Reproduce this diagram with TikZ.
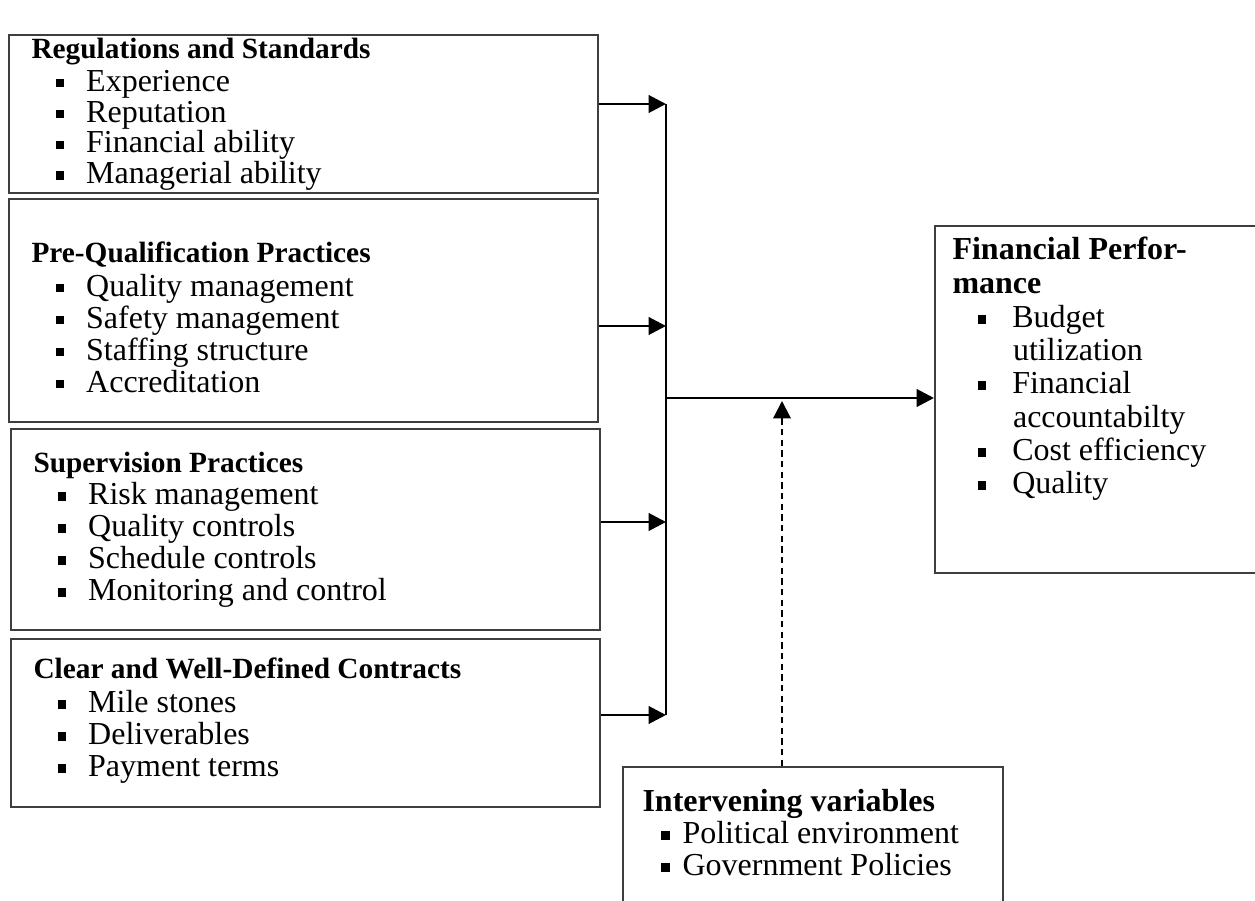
\documentclass[tikz,border=0pt]{standalone}
\usepackage{fontspec}
\setmainfont{Liberation Serif}
\usetikzlibrary{arrows.meta,positioning,calc}
\definecolor{boxgray}{RGB}{62,62,62}
\tikzstyle{panel} = [draw=boxgray, line width=0.8pt, anchor=north west, inner sep=0pt]
\tikzstyle{paneltext} = [anchor=north west, inner sep=0pt, align=left, font=\fontsize{12}{12}\selectfont]
\tikzstyle{flow} = [line width=1.1pt, -{Triangle[length=6.5pt,width=6.5pt]}]
\tikzstyle{dashflow} = [line width=0.8pt, dash pattern=on 2.4pt off 1.6pt, -{Triangle[length=6.5pt,width=6.5pt]}]
\newcommand{\lhead}[1]{{\rule{0pt}{8pt}\fontsize{11}{12}\selectfont\bfseries #1}}
\newcommand{\rhead}[1]{{\rule{0pt}{8pt}\bfseries #1}}
\newcommand{\sq}{\rule[0.25ex]{3.3pt}{3.3pt}}
\newcommand{\bitem}[3]{\hspace*{#1}\makebox[#2][l]{\sq}#3}

\begin{document}
\begin{tikzpicture}[x=0.375pt, y=-0.375pt]
\useasboundingbox (0,0) rectangle (1255,901);

% Boxes on the left
\node[panel, minimum width=589*0.375pt, minimum height=158*0.375pt] (reg) at (8,34) {};
\node[panel, minimum width=589*0.375pt, minimum height=223*0.375pt] (preq) at (8,198) {};
\node[panel, minimum width=589*0.375pt, minimum height=201*0.375pt] (sup) at (10,428) {};
\node[panel, minimum width=589*0.375pt, minimum height=168*0.375pt] (con) at (10,638) {};

% Outcome and intervening boxes
\node[panel, minimum width=330*0.375pt, minimum height=347*0.375pt] (fin) at (934,225) {};
\node[panel, minimum width=380*0.375pt, minimum height=150*0.375pt] (inv) at (622,766) {};

% Labels
\node[paneltext, font=\fontsize{12}{11.6}\selectfont] (regtxt) at (31,37) {\lhead{Regulations and Standards}\\[0.5pt]
  \bitem{9pt}{11.5pt}{Experience}\\
  \bitem{9pt}{11.5pt}{Reputation}\\
  \bitem{9pt}{11.5pt}{Financial ability}\\
  \bitem{9pt}{11.5pt}{Managerial ability}};
\node[paneltext] (preqtxt) at (31,240.7) {\lhead{Pre-Qualification Practices}\\[0.6pt]
  \bitem{9pt}{11.5pt}{Quality management}\\
  \bitem{9pt}{11.5pt}{Safety management}\\
  \bitem{9pt}{11.5pt}{Staffing structure}\\
  \bitem{9pt}{11.5pt}{Accreditation}};
\node[paneltext] (suptxt) at (33,450.7) {\lhead{Supervision Practices}\\
  \bitem{9pt}{11.5pt}{Risk management}\\
  \bitem{9pt}{11.5pt}{Quality controls}\\
  \bitem{9pt}{11.5pt}{Schedule controls}\\
  \bitem{9pt}{11.5pt}{Monitoring and control}};
\node[paneltext] (context) at (33,656.7) {\lhead{Clear and Well-Defined Contracts}\\[0.8pt]
  \bitem{9pt}{11.5pt}{Mile stones}\\
  \bitem{9pt}{11.5pt}{Deliverables}\\
  \bitem{9pt}{11.5pt}{Payment terms}};
\node[paneltext, font=\fontsize{12}{12.5}\selectfont] (fintxt) at (952,236.7) {\rhead{Financial Perfor-}\\
  \rhead{mance}\\[0.3pt]
  \bitem{9.4pt}{13pt}{Budget}\\
  \hspace*{22.7pt}utilization\\
  \bitem{9.4pt}{13pt}{Financial}\\
  \hspace*{22.7pt}accountabilty\\
  \bitem{9.4pt}{13pt}{Cost efficiency}\\
  \bitem{9.4pt}{13pt}{Quality}};
\node[paneltext] (invtxt) at (642,788.7) {\rhead{Intervening variables}\\
  \bitem{7pt}{8pt}{Political environment}\\
  \bitem{7pt}{8pt}{Government Policies}};

% Connectors
\coordinate (hubtop) at (666,104);
\coordinate (hubtwo) at (666,326);
\coordinate (hubthree) at (666,522);
\coordinate (hubbot) at (666,715);
\coordinate (hubmid) at (666,398);
\coordinate (dtip) at (782,401);
\draw[line width=1.1pt] (hubtop) -- (hubbot);
\draw[flow] (reg.east |- hubtop) -- (hubtop);
\draw[flow] (preq.east |- hubtwo) -- (hubtwo);
\draw[flow] (sup.east |- hubthree) -- (hubthree);
\draw[flow] (con.east |- hubbot) -- (hubbot);
\draw[flow] (hubmid) -- (fin.west |- hubmid);
\draw[dashflow] (inv.north -| dtip) -- (dtip);
\end{tikzpicture}
\end{document}
